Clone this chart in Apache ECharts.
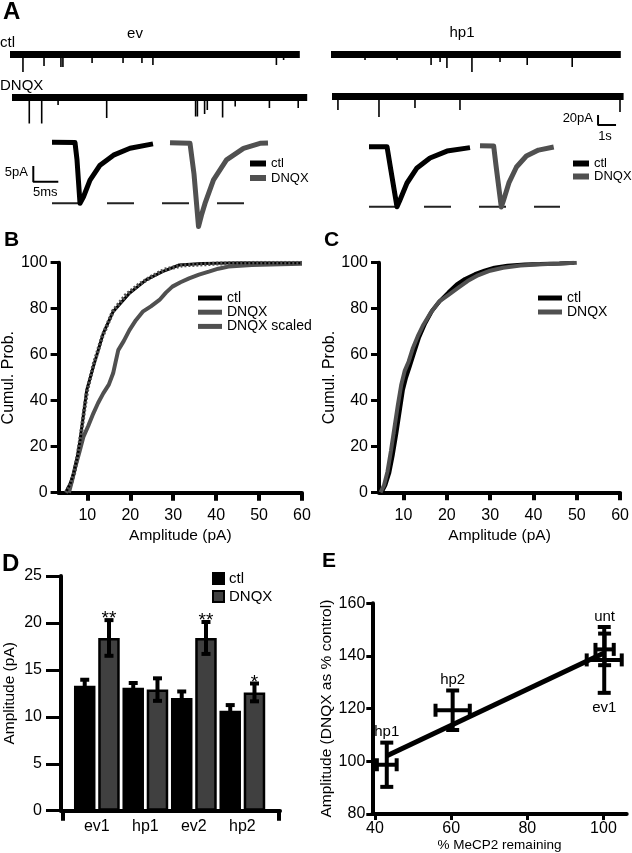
<!DOCTYPE html>
<html><head><meta charset="utf-8">
<script src="https://cdn.jsdelivr.net/npm/echarts@6/dist/echarts.min.js"></script>
<style>html,body{margin:0;padding:0;background:#fff}#c{width:632px;height:853px}</style>
</head><body><div id="c"></div>
<script>
// ================= DATA =================
// Panel A: raw traces; durations (s) and events [time s, amplitude pA]
const traceDur = [16.1, 16.4, 16.1, 16.2];            // ev ctl, ev DNQX, hp1 ctl, hp1 DNQX
const evCtlEvents  = [[0.72,35],[1.89,23],[2.83,25],[2.94,25],[4.56,17],[6.28,17],[7.33,17],[7.94,21],[14.8,21],[15.2,11]];
const evDnqxEvents = [[0.96,52],[1.65,52],[2.56,15],[5.26,41],[10.2,38],[10.3,38],[10.7,33],[10.85,25],[11.7,40],[12.4,18],[14.3,21],[15.9,21]];
const hpCtlEvents  = [[1.89,11],[3.67,11],[5.56,21],[6.06,15],[6.44,27],[7.83,35],[9.39,15],[10.9,21],[13.4,25]];
const hpDnqxEvents = [[0.33,27],[2.61,41],[4.61,23],[7.11,27],[16.0,31]];
// Panel A: averaged events [ms, pA]
const evCtlAvg  = [[0,0],[4.6,-0.1],[5.0,-5.6],[5.6,-19.5],[6.3,-17.4],[7.6,-12.1],[9.6,-7.3],[12.3,-4.1],[15.6,-1.9],[20.2,-0.5]];
const evDnqxAvg = [[0,0],[4.0,-0.2],[4.8,-10],[5.7,-26.8],[6.3,-23.1],[7.0,-19.4],[8.7,-11.9],[11.3,-5.5],[14.7,-1.8],[18.0,-0.2],[19.6,-0.1]];
const hpCtlAvg  = [[0,0],[3.6,0],[4.2,-5.8],[5.6,-19.2],[6.2,-17.0],[7.6,-11.6],[9.6,-6.8],[12.2,-3.6],[15.6,-1.4],[20.2,-0.3]];
const hpDnqxAvg = [[0,0],[3.6,-0.1],[4.2,-6.2],[5.6,-19.6],[6.2,-17.4],[7.6,-11.9],[9.6,-6.8],[12.2,-3.3],[15.4,-1.4],[19.4,-0.4]];
const dashLenMs = [38.8, 38.2];
const scaleBarTrace = {s: 1, pA: 20};
const scaleBarAvg = {ms: 5, pA: 5};

// Panel B: cumulative probability [pA, %]
const bCtl = [[4.9,0],[6.0,4],[6.8,8.4],[7.6,15],[8.3,22.9],[9.1,34],[9.85,44.6],[11.4,54.8],[13.7,69.3],[16.0,78.7],[19.8,86.7],[23.7,92.5],[27.5,96.1],[31.4,99.0],[36.7,99.6],[45,100],[60,100]];
const bDnqx = [[5.7,0],[6.4,5],[7.2,11.3],[8.2,18],[9.1,24.4],[10.2,29],[11.4,34.5],[12.5,39],[13.7,43.2],[15,47],[16,51.9],[16.6,57],[17.2,62],[18.5,66],[19.8,70.7],[21.3,75],[22.9,78.7],[24.8,81],[26.8,83.8],[28.3,87],[29.8,89.6],[31.7,91.5],[33.7,93.2],[36,94.8],[38.3,96.1],[40.5,97.4],[42.9,98.3],[48.3,99],[55,99.3],[60,99.5]];
const bDnqxScaled = [[5.0,0],[6.2,4],[7.0,9],[7.8,17],[8.5,25],[9.2,35],[10,45],[11.5,56],[13.5,68],[16,79],[19,86],[22,90.5],[25,94],[28,97],[32,98.8],[40,99.6],[50,100],[60,100]];
// Panel C
const cCtl = [[4.95,0],[5.8,3],[6.7,8.3],[7.5,16],[8.35,25.6],[9.1,35],[9.85,44.4],[10.6,50],[11.4,54.5],[12.5,61],[13.6,67.5],[15,73.5],[16.6,79.1],[18.5,83.5],[20.4,87.1],[22.3,90.5],[24.2,92.9],[26.5,95],[28.7,96.5],[31,97.8],[34,98.7],[38,99.2],[41.5,99.4],[46,99.7],[49.4,100]];
const cDnqx = [[4.7,0],[5.5,3],[6.3,9],[7.1,18],[7.9,28],[8.7,38],[9.5,47],[10.3,53],[11.2,57],[12.2,63],[13.3,68],[14.6,73],[16.2,78],[18.2,83],[20.4,86],[22.6,89],[24.8,92],[27.2,94.5],[30,96.5],[33,97.8],[37,98.8],[42,99.3],[46,99.6],[50,100]];
const cumTicks = [10,20,30,40,50,60];

// Panel D: amplitude (pA)
const dCats = ['ev1','hp1','ev2','hp2'];
const dCtlMean = [13.3, 13.1, 12.0, 10.65];
const dCtlErr  = [0.65, 0.5, 0.7, 0.6];
const dDnqxMean = [18.4, 12.9, 18.4, 12.6];
const dDnqxErr  = [1.9, 1.2, 1.7, 0.95];
const dSig = ['**','','**','*'];

// Panel E
const eNames = ['hp1','hp2','unt','ev1'];
const eX    = [43.1, 60.4, 100.3, 100.2];
const eXErr = [2.6, 4.5, 2.4, 4.6];
const eY    = [98.7, 119.4, 142.5, 138.5];
const eYErr = [8.4, 7.5, 6.0, 12.5];
const eFitX = [43, 100];
const eFitY = [102, 141];
const eXTicks = [40,60,80,100];

// ================= LAYOUT / STYLE =================
const FONT = '"Liberation Sans", Arial, Helvetica, sans-serif';
const GREY = '#505050';
const PX_PER_S = 18, PX_PER_PA_TR = 0.5;
const PX_PER_MS = 5, PX_PER_PA_AVG = 3.13;
const AVG_MS_MIN = -5, AVG_MS_MAX = 40;
const traceGeo = [{x:10, base:54.5},{x:12, base:97.5},{x:331, base:54.5},{x:332, base:96.5}];
const avgGeo = [{x:52, base:142.3},{x:170, base:142.7},{x:369, base:146.7},{x:486, base:145.7}];
const scaleBarTraceAt = [14.78, -57];   // corner in hp1 DNQX trace coords
const scaleBarAvgAt = [-3.74, -12.6];   // corner in ev ctl avg coords
const D_BAR_W = 21.5, D_BAR_GAP = 2.75;
const E_LABEL = {hp1:{pos:'top',dy:-11}, hp2:{pos:'top',dy:-11}, unt:{pos:'top',dy:-17}, ev1:{pos:'bottom',dy:15}};

const grids = [], xAxes = [], yAxes = [], series = [];
function addGrid(g, xa, ya){ grids.push(g); const i = grids.length-1; xAxes.push(Object.assign({gridIndex:i}, xa)); yAxes.push(Object.assign({gridIndex:i}, ya)); return i; }

// ---- Panel A traces ----
const traceEvents = [evCtlEvents, evDnqxEvents, hpCtlEvents, hpDnqxEvents];
traceGeo.forEach((g, k) => {
  const gi = addGrid({left:g.x, top:g.base - 20*PX_PER_PA_TR, width:traceDur[k]*PX_PER_S, height:80*PX_PER_PA_TR},
    {type:'value', min:0, max:traceDur[k], show:false}, {type:'value', min:-60, max:20, show:false});
  series.push({type:'line', xAxisIndex:gi, yAxisIndex:gi, data:[[0,0],[traceDur[k],0]], symbol:'none', lineStyle:{color:'#000', width:7}, silent:true});
  series.push({type:'custom', xAxisIndex:gi, yAxisIndex:gi, data:traceEvents[k], silent:true,
    renderItem:(p, api) => { const t=api.value(0), a=api.value(1); const p0=api.coord([t,4]), p1=api.coord([t,-a]);
      return {type:'line', shape:{x1:p0[0],y1:p0[1],x2:p1[0],y2:p1[1]}, style:{stroke:'#000', lineWidth:1.6}}; }});
  if (k === 3) {
    const c = scaleBarTraceAt;
    series.push({type:'line', xAxisIndex:gi, yAxisIndex:gi, symbol:'none', silent:true,
      data:[[c[0], c[1]+scaleBarTrace.pA],[c[0], c[1]],[c[0]+scaleBarTrace.s, c[1]]], lineStyle:{color:'#000', width:2}});
  }
});
// ---- Panel A averages ----
const avgData = [evCtlAvg, evDnqxAvg, hpCtlAvg, hpDnqxAvg];
const avgNames = ['Aev|ctl','Aev|DNQX','Ahp|ctl','Ahp|DNQX'];
avgGeo.forEach((g, k) => {
  const gi = addGrid({left:g.x + AVG_MS_MIN*PX_PER_MS, top:g.base - 5*PX_PER_PA_AVG, width:(AVG_MS_MAX-AVG_MS_MIN)*PX_PER_MS, height:35*PX_PER_PA_AVG},
    {type:'value', min:AVG_MS_MIN, max:AVG_MS_MAX, show:false}, {type:'value', min:-30, max:5, show:false});
  const isCtl = (k % 2 === 0);
  series.push({type:'line', name:avgNames[k], xAxisIndex:gi, yAxisIndex:gi, data:avgData[k], symbol:'none',
    color: isCtl ? '#000' : GREY, lineStyle:{color: isCtl ? '#000' : GREY, width:5, join:'round'}, z:3});
  if (isCtl) {
    const peak = Math.min(...avgData[k].map(d => d[1]));
    series.push({type:'line', xAxisIndex:gi, yAxisIndex:gi, symbol:'none', silent:true, z:2,
      data:[[0,peak],[dashLenMs[k/2],peak]], lineStyle:{color:'#222', width:2, type:[27,28]}});
  }
  if (k === 0) {
    const c = scaleBarAvgAt;
    series.push({type:'line', xAxisIndex:gi, yAxisIndex:gi, symbol:'none', silent:true,
      data:[[c[0], c[1]+scaleBarAvg.pA],[c[0], c[1]],[c[0]+scaleBarAvg.ms, c[1]]], lineStyle:{color:'#000', width:2}});
  }
});

// ---- shared axis styles ----
const lab = {color:'#000', fontSize:16, fontFamily:FONT};
const nameStyle = {color:'#000', fontSize:15.5, fontFamily:FONT};
function cumX(min){ return {type:'value', min:min, max:60, offset:2,
  axisLine:{show:true, lineStyle:{color:'#000', width:4}},
  axisTick:{show:true, customValues:cumTicks, length:8, lineStyle:{color:'#000', width:4}},
  axisLabel:Object.assign({customValues:cumTicks, margin:13}, lab), splitLine:{show:false},
  name:'Amplitude (pA)', nameLocation:'middle', nameGap:33, nameTextStyle:nameStyle}; }
function cumY(){ return {type:'value', min:0, max:100, interval:20,
  axisLine:{show:true, lineStyle:{color:'#000', width:4}},
  axisTick:{show:true, length:8, lineStyle:{color:'#000', width:3}},
  axisLabel:Object.assign({margin:11}, lab), splitLine:{show:false},
  name:'Cumul. Prob.', nameLocation:'middle', nameGap:35, nameTextStyle:Object.assign({}, nameStyle, {fontSize:16})}; }

// ---- Panel B ----
const gB = addGrid({left:55, top:262.7, width:247, height:230}, cumX(3.3), cumY());
series.push({type:'line', name:'B|ctl', xAxisIndex:gB, yAxisIndex:gB, data:bCtl, symbol:'none', color:'#000', lineStyle:{color:'#000', width:3}, z:3});
series.push({type:'line', name:'B|DNQX', xAxisIndex:gB, yAxisIndex:gB, data:bDnqx, symbol:'none', color:GREY, lineStyle:{color:GREY, width:4}, z:2});
series.push({type:'line', name:'B|DNQX scaled', xAxisIndex:gB, yAxisIndex:gB, data:bDnqxScaled, symbol:'none', color:GREY, lineStyle:{color:GREY, width:4, type:[2,2]}, z:4});
// ---- Panel C ----
const gC = addGrid({left:379, top:262.7, width:246, height:229.6}, cumX(4.35), cumY());
series.push({type:'line', name:'C|ctl', xAxisIndex:gC, yAxisIndex:gC, data:cCtl, symbol:'none', color:'#000', lineStyle:{color:'#000', width:4}, z:3});
series.push({type:'line', name:'C|DNQX', xAxisIndex:gC, yAxisIndex:gC, data:cDnqx, symbol:'none', color:GREY, lineStyle:{color:GREY, width:4}, z:4});

// ---- Panel D ----
const gDa = addGrid({left:61, top:576, width:219, height:234.7},
  {type:'value', min:0, max:1, axisLine:{show:true, lineStyle:{color:'#000', width:4}},
   axisTick:{show:true, customValues:[0.009,0.995], length:10, lineStyle:{color:'#000', width:4}},
   axisLabel:{show:false}, splitLine:{show:false}},
  {type:'value', min:0, max:25, interval:5, axisLine:{show:true, lineStyle:{color:'#000', width:4}},
   axisTick:{show:true, length:15, lineStyle:{color:'#000', width:3}},
   axisLabel:Object.assign({margin:19}, lab), splitLine:{show:false},
   name:'Amplitude (pA)', nameLocation:'middle', nameGap:43, nameTextStyle:nameStyle});
const gDb = addGrid({left:72.6, top:576, width:194, height:234.7},
  {type:'category', data:dCats, axisLine:{show:false}, axisTick:{show:false}, axisLabel:Object.assign({margin:8}, lab)},
  {type:'value', min:0, max:25, show:false});
series.push({type:'bar', name:'D|ctl', xAxisIndex:gDb, yAxisIndex:gDb, data:dCtlMean, barWidth:D_BAR_W, barGap:(D_BAR_GAP/D_BAR_W*100)+'%',
  itemStyle:{color:'#000', borderColor:'#000', borderWidth:2}});
series.push({type:'bar', name:'D|DNQX', xAxisIndex:gDb, yAxisIndex:gDb, data:dDnqxMean, barWidth:D_BAR_W,
  itemStyle:{color:'#404040', borderColor:'#000', borderWidth:2.5}});
const dErrData = [];
dCats.forEach((c,i) => { dErrData.push([i, dCtlMean[i], dCtlErr[i], 0]); dErrData.push([i, dDnqxMean[i], dDnqxErr[i], 1]); });
series.push({type:'custom', xAxisIndex:gDb, yAxisIndex:gDb, data:dErrData, z:5, silent:true,
  renderItem:(p, api) => {
    const i=api.value(0), m=api.value(1), e=api.value(2), g=api.value(3);
    const x = api.coord([i, m])[0] + (g===0 ? -1 : 1) * (D_BAR_W + D_BAR_GAP) / 2;
    const top = api.coord([i, m+e])[1], bot = api.coord([i, m-e])[1];
    const st = {stroke:'#000', lineWidth:4};
    const ch = [
      {type:'line', shape:{x1:x, y1:top, x2:x, y2:bot}, style:st},
      {type:'line', shape:{x1:x-4.5, y1:top, x2:x+4.5, y2:top}, style:st},
      {type:'line', shape:{x1:x-4.5, y1:bot, x2:x+4.5, y2:bot}, style:st}];
    if (g===1 && dSig[i]) ch.push({type:'text', x:x, y:top-1, style:{text:dSig[i], fontSize:19, fontFamily:FONT, fill:'#000', align:'center', verticalAlign:'middle'}});
    return {type:'group', children:ch};
  }});

// ---- Panel E ----
const gE = addGrid({left:372.3, top:603.3, width:254.4, height:210.7},
  {type:'value', min:39.3, max:106.1, axisLine:{show:true, lineStyle:{color:'#000', width:4}},
   axisTick:{show:true, customValues:eXTicks, length:6, lineStyle:{color:'#000', width:3}},
   axisLabel:Object.assign({customValues:eXTicks, margin:7}, lab), splitLine:{show:false},
   name:'% MeCP2 remaining', nameLocation:'middle', nameGap:21, nameTextStyle:Object.assign({}, nameStyle, {fontSize:13.5})},
  {type:'value', min:80, max:160, interval:20, axisLine:{show:true, lineStyle:{color:'#000', width:4}},
   axisTick:{show:true, length:6, lineStyle:{color:'#000', width:3}},
   axisLabel:Object.assign({margin:7}, lab), splitLine:{show:false},
   name:'Amplitude (DNQX as % control)', nameLocation:'middle', nameGap:35, nameTextStyle:nameStyle});
series.push({type:'line', xAxisIndex:gE, yAxisIndex:gE, data:eFitX.map((x,i)=>[x, eFitY[i]]), symbol:'none', silent:true, lineStyle:{color:'#000', width:5}, z:2});
series.push({type:'custom', xAxisIndex:gE, yAxisIndex:gE, data:eX.map((x,i)=>[x, eY[i], eXErr[i], eYErr[i]]), z:5, silent:true,
  renderItem:(p, api) => {
    const x=api.value(0), y=api.value(1), ex=api.value(2), ey=api.value(3);
    const c=api.coord([x,y]), l=api.coord([x-ex,y]), r=api.coord([x+ex,y]), t=api.coord([x,y+ey]), b=api.coord([x,y-ey]);
    const cap=6.5, st={stroke:'#000', lineWidth:4};
    const nm = eNames[p.dataIndex], ls = E_LABEL[nm];
    const ly = (ls.pos==='top' ? t[1] : b[1]) + ls.dy;
    return {type:'group', children:[
      {type:'line', shape:{x1:l[0],y1:l[1],x2:r[0],y2:r[1]}, style:st},
      {type:'line', shape:{x1:t[0],y1:t[1],x2:b[0],y2:b[1]}, style:st},
      {type:'line', shape:{x1:l[0],y1:l[1]-cap,x2:l[0],y2:l[1]+cap}, style:st},
      {type:'line', shape:{x1:r[0],y1:r[1]-cap,x2:r[0],y2:r[1]+cap}, style:st},
      {type:'line', shape:{x1:t[0]-cap,y1:t[1],x2:t[0]+cap,y2:t[1]}, style:st},
      {type:'line', shape:{x1:b[0]-cap,y1:b[1],x2:b[0]+cap,y2:b[1]}, style:st},
      {type:'text', x:c[0], y:ly, style:{text:nm, fontSize:15, fontFamily:FONT, fill:'#000', align:'center', verticalAlign:'middle'}}
    ]};
  }});

// ---- legends ----
const fmt = n => n.split('|')[1];
function leg(data, left, top, w, h, fs, gap){ return {data, left, top, orient:'vertical', icon:'rect', itemWidth:w, itemHeight:h, itemGap:gap, padding:0,
  formatter:fmt, selectedMode:false, textStyle:{color:'#000', fontSize:fs, fontFamily:FONT, lineHeight:fs}}; }
const legends = [
  leg(['Aev|ctl','Aev|DNQX'], 250, 157, 16, 6, 13, 1.5),
  leg(['Ahp|ctl','Ahp|DNQX'], 573, 157, 16, 6, 13, 0),
  leg(['B|ctl','B|DNQX','B|DNQX scaled'], 198, 291, 24, 5, 14, 0.2),
  leg(['C|ctl','C|DNQX'], 538, 291, 24, 5, 14, 0),
  leg(['D|ctl','D|DNQX'], 212, 571, 11, 11, 15, 3)
];

// ---- text annotations ----
function txt(text, x, y, fs, opts){ return {type:'text', x, y, silent:true, style:Object.assign({text, fontSize:fs, fontFamily:FONT, fill:'#000', align:'left', verticalAlign:'middle'}, opts||{})}; }
const graphic = [
  txt('A', 3, 12, 24, {fontWeight:'bold'}),
  txt('B', 4, 240, 21, {fontWeight:'bold'}),
  txt('C', 324, 240, 21, {fontWeight:'bold'}),
  txt('D', 2, 564, 24, {fontWeight:'bold'}),
  txt('E', 322, 561, 21, {fontWeight:'bold'}),
  txt('ev', 135, 34, 15, {align:'center'}),
  txt('hp1', 462, 33, 15, {align:'center'}),
  txt('ctl', 0, 43, 15),
  txt('DNQX', 0, 86, 15),
  txt('20pA', 593, 118, 13, {align:'right'}),
  txt('1s', 605, 136, 13, {align:'center'}),
  txt('5pA', 28, 172, 13, {align:'right'}),
  txt('5ms', 33, 192, 13)
];

const chart = echarts.init(document.getElementById('c'), null, {renderer:'canvas'});
chart.setOption({animation:false, backgroundColor:'#fff', textStyle:{fontFamily:FONT},
  grid:grids, xAxis:xAxes, yAxis:yAxes, series, legend:legends, graphic});
</script></body></html>
